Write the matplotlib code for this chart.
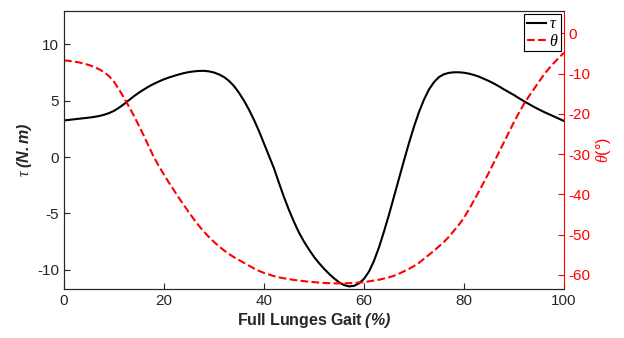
import numpy as np
import matplotlib
matplotlib.use('Agg')
import matplotlib.pyplot as plt

plt.rcParams['font.family'] = ['Liberation Sans', 'DejaVu Sans']
plt.rcParams['axes.unicode_minus'] = False
plt.rcParams['mathtext.fontset'] = 'custom'
plt.rcParams['mathtext.rm'] = 'Liberation Sans'
plt.rcParams['mathtext.it'] = 'Liberation Serif:italic'
plt.rcParams['mathtext.bf'] = 'Liberation Sans:bold'
plt.rcParams['mathtext.bfit'] = 'Liberation Sans:bold:italic'

# gait cycle (%)
gait = np.arange(0, 101)

# torque tau (N.m)
tau = [3.25, 3.3, 3.35, 3.4, 3.45, 3.5, 3.56, 3.64, 3.75, 3.9,
       4.1, 4.38, 4.7, 5.05, 5.4, 5.72, 6.0, 6.27, 6.5, 6.71,
       6.9, 7.06, 7.2, 7.33, 7.45, 7.54, 7.6, 7.64, 7.65, 7.6,
       7.5, 7.33, 7.1, 6.76, 6.3, 5.7, 5.0, 4.2, 3.3, 2.3,
       1.2, 0.1, -1.0, -2.3, -3.55, -4.7, -5.75, -6.7, -7.5, -8.2,
       -8.85, -9.4, -9.9, -10.35, -10.75, -11.1, -11.35, -11.47, -11.42, -11.2,
       -10.8, -10.15, -9.2, -8.0, -6.6, -5.1, -3.5, -1.9, -0.3, 1.25,
       2.7, 4.0, 5.1, 6.0, 6.65, 7.1, 7.35, 7.47, 7.52, 7.52,
       7.48, 7.4, 7.28, 7.13, 6.94, 6.74, 6.52, 6.27, 6.0, 5.75,
       5.5, 5.22, 4.95, 4.7, 4.45, 4.22, 4.0, 3.8, 3.6, 3.4,
       3.2]

# joint angle theta (deg)
theta = [-6.7, -6.8, -7.0, -7.2, -7.5, -7.85, -8.3, -8.9, -9.6, -10.6,
         -12.0, -13.9, -16.0, -18.2, -20.5, -23.0, -25.5, -28.2, -30.8, -33.0,
         -35.1, -37.1, -39.0, -40.9, -42.7, -44.5, -46.2, -47.8, -49.3, -50.6,
         -51.8, -52.9, -53.9, -54.8, -55.6, -56.3, -57.0, -57.7, -58.4, -59.0,
         -59.5, -59.9, -60.3, -60.6, -60.85, -61.05, -61.25, -61.4, -61.55, -61.7,
         -61.8, -61.9, -62.0, -62.05, -62.1, -62.1, -62.1, -62.05, -62.0, -61.9,
         -61.8, -61.6, -61.4, -61.2, -60.9, -60.6, -60.2, -59.7, -59.1, -58.5,
         -57.8, -57.0, -56.0, -55.0, -54.0, -52.9, -51.8, -50.5, -49.0, -47.5,
         -45.8, -43.7, -41.5, -39.2, -36.9, -34.5, -32.0, -29.5, -27.0, -24.5,
         -22.0, -19.7, -17.5, -15.6, -13.8, -12.0, -10.2, -8.7, -7.3, -6.0,
         -4.8]

dark = (0.15, 0.15, 0.15)

fig = plt.figure(figsize=(6.24, 3.38), dpi=100)
ax = fig.add_axes([64/624, 49/338, 500/624, 278.5/338])
ax2 = ax.twinx()

l1, = ax.plot(gait, tau, color='k', lw=1.5, label=r'$\tau$')
l2, = ax2.plot(gait, theta, color='r', lw=1.5, ls='--', label=r'$\theta$')

ax.set_xlim(0, 100)
ax.set_ylim(-11.7, 13.0)
ax2.set_ylim(-63.5, 5.7)
ax.set_xticks([0, 20, 40, 60, 80, 100])
ax.set_yticks([-10, -5, 0, 5, 10])
ax2.set_yticks([-60, -50, -40, -30, -20, -10, 0])

ax.tick_params(direction='in', length=4, labelsize=11, colors=dark, width=0.8)
ax2.tick_params(axis='y', direction='in', length=4, labelsize=11, colors='r', width=0.8)

for s in ['left', 'bottom', 'top']:
    ax.spines[s].set_color(dark)
    ax2.spines[s].set_color(dark)
ax2.spines['right'].set_color('r')
ax.spines['right'].set_visible(False)

ax.set_xlabel(r'$\mathbf{Full\ Lunges\ Gait}\ \mathbfit{(\%)}$', fontsize=11.5, color=dark, labelpad=2)
ax.set_ylabel(r'$\tau\ \mathbfit{(N.m)}$', fontsize=11.5, color=dark, labelpad=2)
ax2.set_ylabel(r'$\theta$(°)', fontsize=11.5, color='r', labelpad=2)

leg = ax2.legend(handles=[l1, l2], loc='upper right', fontsize=11.5,
                 handlelength=1.2, handletextpad=0.2, borderpad=0.15,
                 labelspacing=0.1, borderaxespad=0.2, fancybox=False, framealpha=1)
leg.get_frame().set_edgecolor('k')
leg.get_frame().set_linewidth(0.8)

fig.savefig('out.png', dpi=100)
